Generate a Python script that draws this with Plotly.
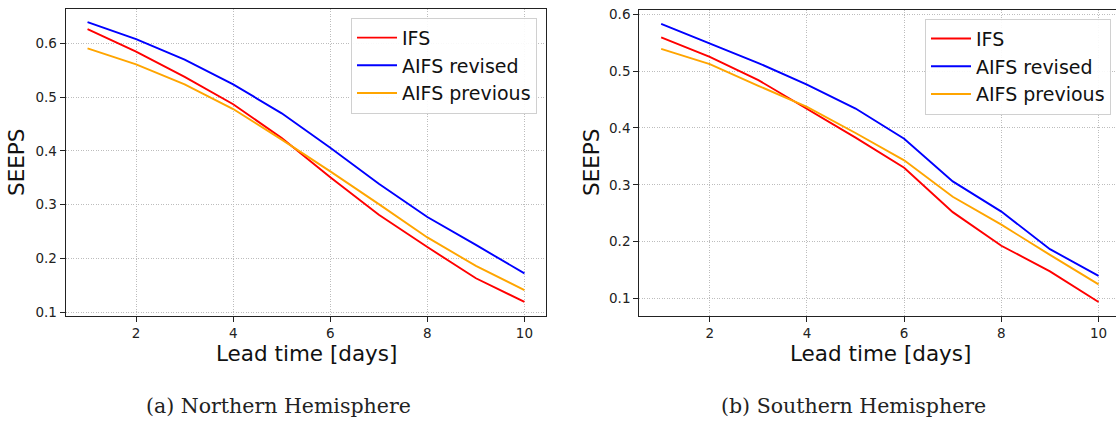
import plotly.graph_objects as go

W, H = 1116, 425

days = [1, 2, 3, 4, 5, 6, 7, 8, 9, 10]
x_ticks = [2, 4, 6, 8, 10]
y_ticks_nh = [0.1, 0.2, 0.3, 0.4, 0.5, 0.6]
y_ticks_sh = [0.1, 0.2, 0.3, 0.4, 0.5, 0.6]

series_names = ["IFS", "AIFS revised", "AIFS previous"]
series_colors = ["#ff0000", "#0000ff", "#ffa500"]

# Northern Hemisphere
nh_ifs = [0.627, 0.585, 0.538, 0.487, 0.424, 0.351, 0.281, 0.221, 0.163, 0.119]
nh_aifs_revised = [0.640, 0.608, 0.570, 0.524, 0.470, 0.406, 0.339, 0.277, 0.225, 0.172]
nh_aifs_previous = [0.591, 0.561, 0.524, 0.478, 0.421, 0.362, 0.301, 0.239, 0.186, 0.141]

# Southern Hemisphere
sh_ifs = [0.559, 0.525, 0.484, 0.433, 0.383, 0.330, 0.252, 0.193, 0.148, 0.094]
sh_aifs_revised = [0.583, 0.549, 0.514, 0.476, 0.434, 0.381, 0.306, 0.253, 0.187, 0.140]
sh_aifs_previous = [0.539, 0.512, 0.474, 0.437, 0.391, 0.343, 0.279, 0.230, 0.177, 0.125]

x_title = "Lead time [days]"
y_title = "SEEPS"
captions = ["(a) Northern Hemisphere", "(b) Southern Hemisphere"]

fig = go.Figure()

nh = [nh_ifs, nh_aifs_revised, nh_aifs_previous]
sh = [sh_ifs, sh_aifs_revised, sh_aifs_previous]

for name, color, vals in zip(series_names, series_colors, nh):
    fig.add_trace(go.Scatter(x=days, y=vals, mode="lines", name=name,
                             line=dict(color=color, width=1.9),
                             xaxis="x", yaxis="y", legend="legend",
                             legendgroup="nh_" + name))
for name, color, vals in zip(series_names, series_colors, sh):
    fig.add_trace(go.Scatter(x=days, y=vals, mode="lines", name=name,
                             line=dict(color=color, width=1.9),
                             xaxis="x2", yaxis="y2", legend="legend2",
                             legendgroup="sh_" + name))

def px_x(p):
    return p / W

def px_y(p):
    return 1 - p / H

tick_font = dict(family="DejaVu Sans", size=13.5, color="#222222")
axis_common = dict(
    showline=True, linecolor="#222222", linewidth=1.2,
    ticks="outside", ticklen=5, tickwidth=1, tickcolor="#222222",
    tickfont=tick_font, showgrid=True, gridcolor="#bdbdbd",
    gridwidth=0.8, griddash="1px,1.5px", zeroline=False,
)

legend_style = dict(
    xanchor="right", yanchor="top",
    bgcolor="rgba(255,255,255,0.9)", bordercolor="#d0d0d0", borderwidth=1,
    font=dict(family="DejaVu Sans", size=19, color="#111111"),
    tracegroupgap=0, itemwidth=40,
)

fig.update_layout(
    width=W, height=H,
    margin=dict(l=0, r=0, t=0, b=0, pad=0),
    paper_bgcolor="white", plot_bgcolor="white",
    font=dict(family="DejaVu Sans", color="#111111"),
    xaxis=dict(domain=[px_x(65.7), px_x(546.3)], range=[0.55, 10.45],
               tickvals=x_ticks, anchor="y", mirror=True, **axis_common),
    yaxis=dict(domain=[px_y(317.7), px_y(4.7)], range=[0.0932, 0.665],
               tickvals=y_ticks_nh, tickformat=".1f", anchor="x",
               mirror=True, **axis_common),
    xaxis2=dict(domain=[px_x(639.3), 1.0], range=[0.55, 10.359],
                tickvals=x_ticks, anchor="y2", mirror=True, **axis_common),
    yaxis2=dict(domain=[px_y(317.7), px_y(6.0)], range=[0.070, 0.6074],
                tickvals=y_ticks_sh, tickformat=".1f", anchor="x2",
                mirror=False, **axis_common),
    legend=dict(x=px_x(537.0), y=px_y(14.0), **legend_style),
    legend2=dict(x=px_x(1111.0), y=px_y(15.0), **legend_style),
    showlegend=True,
)

annotations = []
for cx in (306, 880):
    annotations.append(dict(text=x_title, x=px_x(cx), y=px_y(356), xref="paper", yref="paper",
                            xanchor="center", yanchor="middle", showarrow=False,
                            font=dict(family="DejaVu Sans", size=21.5, color="#111111")))
for cx in (17, 592):
    annotations.append(dict(text=y_title, x=px_x(cx), y=px_y(162), xref="paper", yref="paper",
                            xanchor="center", yanchor="middle", showarrow=False, textangle=-90,
                            font=dict(family="DejaVu Sans", size=21.5, color="#111111")))
for cx, cap in zip((278, 853), captions):
    annotations.append(dict(text=cap, x=px_x(cx), y=px_y(410), xref="paper", yref="paper",
                            xanchor="center", yanchor="middle", showarrow=False,
                            font=dict(family="DejaVu Serif", size=20.5, color="#222222")))
fig.update_layout(annotations=annotations)

fig.write_html("out.html", config={"displayModeBar": False},
               post_script="document.body.style.margin='0px';")
